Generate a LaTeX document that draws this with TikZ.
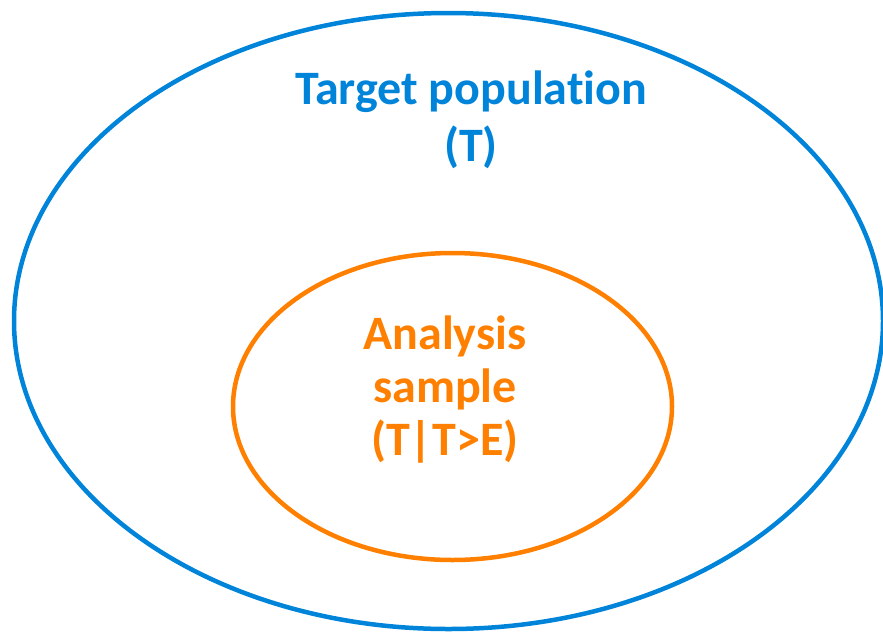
\documentclass[tikz,border=0pt]{standalone}
\usepackage{fontspec}
\setmainfont{Carlito}[Ligatures=NoCommon]
\usepackage{tikz}
\usetikzlibrary{shapes.geometric}
\definecolor{popblue}{RGB}{0,132,218}
\definecolor{samporange}{RGB}{255,128,0}

\begin{document}
\begin{tikzpicture}[
    x=1pt, y=-1pt,
    ring/.style={draw, ellipse, inner sep=0pt, line width=4.5pt},
    lbl/.style={align=center, inner sep=0pt, font=\fontsize{48}{57}\selectfont\bfseries}
]
\useasboundingbox (0,0) rectangle (883,633);
\node[ring, draw=popblue, minimum width=869pt, minimum height=616pt] (pop) at (448.5,321) {};
\node[ring, draw=samporange, minimum width=439pt, minimum height=307pt] (samp) at (452.5,406.5) {};

\node[lbl, text=popblue] (poptext) at (471,120) {Target population\\(T)};
\node[lbl, text=samporange, font=\fontsize{48}{53}\selectfont\bfseries] (samptext) at (445,390) {Analysis\\sample\\(T|T>E)};
\end{tikzpicture}
\end{document}
